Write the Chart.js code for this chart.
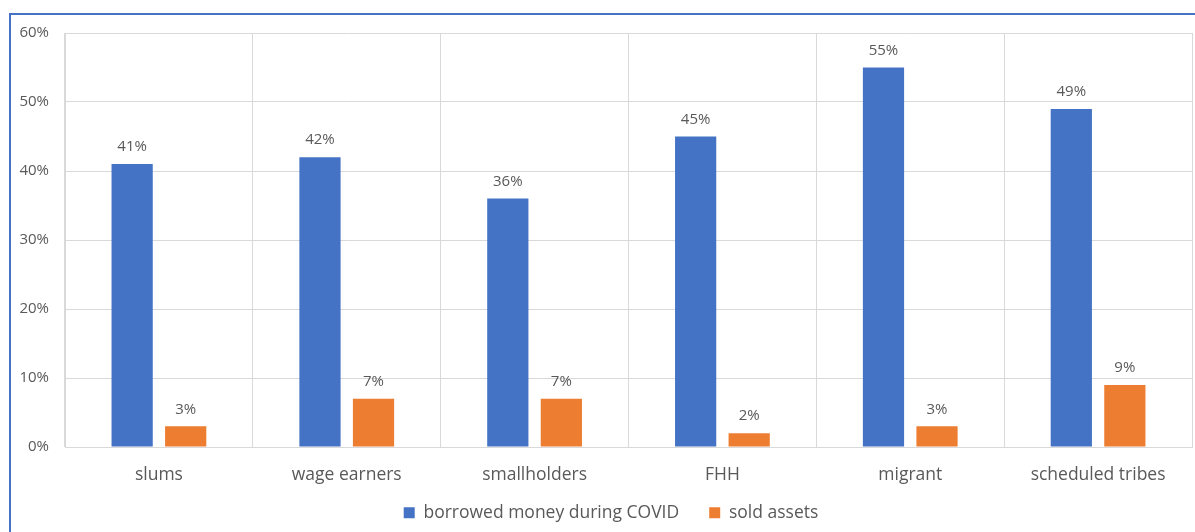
<!DOCTYPE html>
<html>
<head>
<meta charset="utf-8">
<script src="https://cdn.jsdelivr.net/npm/chart.js@4/dist/chart.umd.min.js"></script>
<style>
    html, body { margin: 0; padding: 0; background: #fff; overflow: hidden; }
    .wrap { position: relative; width: 1195px; height: 532px; }
    .frame {
        position: absolute; left: 9px; top: 13px; width: 2000px; height: 2000px;
        border-top: 2px solid #4472c4; border-left: 2px solid #4472c4;
        pointer-events: none;
    }
</style>
</head>
<body>
<div class="wrap">
    <canvas id="chart"></canvas>
    <div class="frame"></div>
</div>
<script>
const categories = ['slums', 'wage earners', 'smallholders', 'FHH', 'migrant', 'scheduled tribes'];
const borrowed = [41, 42, 36, 45, 55, 49];
const soldAssets = [3, 7, 7, 2, 3, 9];
const yTicks = [0, 10, 20, 30, 40, 50, 60];

const TEXT = '#595959';
const GRID = '#d9d9d9';
const FONT = '"Open Sans", sans-serif';

/**
 * Writes each bar's value as "n%" just above its top, the way the
 * spreadsheet labels do. Positions come from the bar elements themselves.
 */
const barValueLabels = {
    id: 'barValueLabels',
    afterDatasetsDraw(chart) {
        const { ctx } = chart;
        ctx.save();
        ctx.fillStyle = TEXT;
        ctx.font = `15px ${FONT}`;
        ctx.textAlign = 'center';
        ctx.textBaseline = 'middle';
        chart.data.datasets.forEach((dataset, i) => {
            chart.getDatasetMeta(i).data.forEach((bar, j) => {
                ctx.fillText(`${dataset.data[j]}%`, bar.x, bar.y - 17);
            });
        });
        ctx.restore();
    },
};

/**
 * The legend needs a wide gap between its two entries, which in Chart.js
 * also pads it vertically. Raise its top edge (the bottom stays, so nothing
 * gets clipped) and nudge it right, so it sits where the original one does.
 */
const legendNudge = {
    id: 'legendNudge',
    afterLayout(chart) {
        const legend = chart.legend;
        if (!legend) return;
        legend.top -= 13;
        legend.left += 10;
        legend.right += 10;
    },
};

new Chart(document.getElementById('chart'), {
    type: 'bar',
    data: {
        labels: categories,
        datasets: [
            {
                label: 'borrowed money during COVID',
                data: borrowed,
                backgroundColor: '#4472c4',
                categoryPercentage: 0.57,
                barPercentage: 0.77,
            },
            {
                label: 'sold assets',
                data: soldAssets,
                backgroundColor: '#ed7d31',
                categoryPercentage: 0.57,
                barPercentage: 0.77,
            },
        ],
    },
    options: {
        responsive: true,
        maintainAspectRatio: false,
        animation: false,
        layout: { padding: { left: 10, right: 3, top: 33, bottom: 0 } },
        plugins: {
            legend: {
                position: 'bottom',
                maxHeight: 45,
                labels: {
                    color: TEXT,
                    font: { family: FONT, size: 17.5 },
                    boxWidth: 11,
                    boxHeight: 11,
                    padding: 30,
                },
            },
            tooltip: { enabled: false },
        },
        scales: {
            x: {
                grid: { color: GRID, drawTicks: false, offset: true },
                border: { color: GRID },
                ticks: {
                    color: TEXT,
                    font: { family: FONT, size: 17.5 },
                    padding: 18,
                    maxRotation: 0,
                },
                afterFit: (scale) => { scale.height = 40; },
            },
            y: {
                min: 0,
                max: 60,
                grid: { color: GRID, drawTicks: false },
                border: { color: GRID },
                afterBuildTicks: (scale) => { scale.ticks = yTicks.map((value) => ({ value })); },
                ticks: {
                    color: TEXT,
                    font: { family: FONT, size: 15 },
                    padding: 16,
                    callback: (value) => `${value}%`,
                },
                afterFit: (scale) => { scale.width = 55; },
            },
        },
    },
    plugins: [barValueLabels, legendNudge],
});
</script>
</body>
</html>
